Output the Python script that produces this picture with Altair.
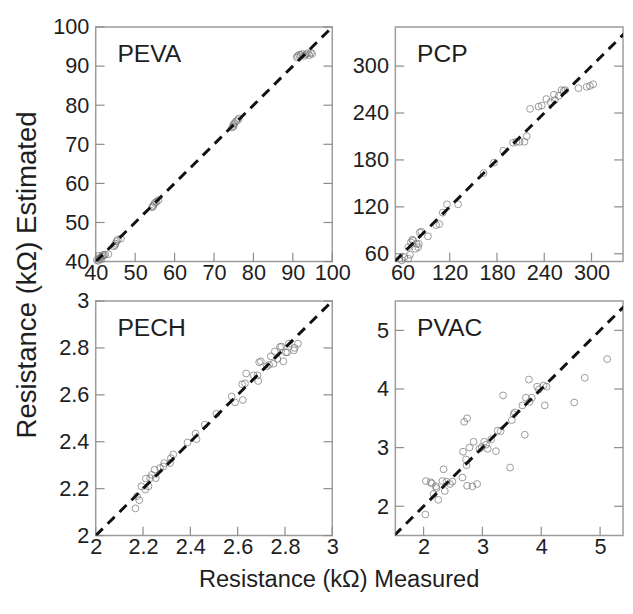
import altair as alt
import pandas as pd

FONT = "Liberation Sans"
TXT = "#1e1e1e"
FRAME = "#9c9c9c"

# ---------------- data ----------------
peva_measured = [40.3, 40.6, 40.8, 40.9, 41.2, 41.4, 41.5, 41.8, 42.1, 42.4, 43.2,
                 44.6, 44.9, 45.0, 45.3, 45.6, 46.4,
                 54.3, 54.5, 54.7, 55.0, 55.4, 55.9,
                 74.6, 74.9, 75.0, 75.2, 75.6, 76.0, 76.3,
                 91.0, 91.2, 91.6, 92.0, 92.4, 92.9, 93.3, 93.8, 94.2, 94.6, 94.9]
peva_estimated = [40.4, 40.2, 41.5, 40.8, 41.0, 40.6, 41.3, 41.7, 41.6, 41.8, 41.9,
                  43.9, 44.2, 44.6, 45.2, 45.6, 45.9,
                  53.9, 54.1, 54.5, 55.0, 55.3, 55.7,
                  74.3, 75.0, 74.6, 75.4, 75.9, 76.2, 76.6,
                  92.2, 92.6, 92.9, 92.8, 93.1, 92.6, 93.0, 93.3, 92.8, 93.4, 93.1]

pcp_measured = [59.2, 62.5, 67.5, 67.5, 69.5, 70.8, 72.5, 73.7, 76.6, 77.9,
                79.9, 80.8, 82.0, 84.1, 92.4, 102.8, 106.9, 111.1, 116.5, 130.6,
                163.0, 176.3, 187.9, 200.4, 204.5, 208.7, 214.9, 217.8, 222.0, 232.8,
                236.9, 242.7, 248.1, 252.3, 253.5, 258.5, 261.8, 264.7, 266.8, 283.4,
                293.8, 298.0, 302.1]
pcp_estimated = [51.6, 55.8, 53.7, 68.4, 58.7, 74.7, 78.1, 76.8, 66.3, 72.6,
                 68.4, 72.6, 87.4, 88.2, 82.3, 96.6, 97.9, 112.6, 123.2, 123.2,
                 163.2, 176.6, 191.8, 201.9, 203.2, 203.2, 203.2, 210.3, 245.3, 248.2,
                 249.5, 257.9, 253.7, 263.4, 256.6, 262.1, 269.3, 268.4, 269.3, 271.8,
                 273.5, 274.7, 276.8]

pech_measured = [2.168, 2.175, 2.184, 2.193, 2.209, 2.212, 2.223, 2.23, 2.237, 2.249,
                 2.254, 2.272, 2.286, 2.29, 2.314, 2.318, 2.328, 2.388, 2.422, 2.426,
                 2.461, 2.51, 2.575, 2.589, 2.622, 2.619, 2.631, 2.636, 2.668, 2.684,
                 2.687, 2.691, 2.698, 2.723, 2.733, 2.74, 2.751, 2.757, 2.768, 2.779,
                 2.785, 2.793, 2.803, 2.81, 2.817, 2.838, 2.841, 2.855]
pech_estimated = [2.116, 2.168, 2.151, 2.21, 2.196, 2.243, 2.21, 2.245, 2.259, 2.281,
                  2.245, 2.288, 2.295, 2.309, 2.309, 2.33, 2.346, 2.397, 2.435, 2.411,
                  2.473, 2.519, 2.593, 2.568, 2.578, 2.645, 2.649, 2.691, 2.683, 2.683,
                  2.659, 2.739, 2.743, 2.722, 2.728, 2.764, 2.733, 2.785, 2.753, 2.804,
                  2.806, 2.743, 2.781, 2.781, 2.818, 2.79, 2.8, 2.818]

pvac_measured = [2.03, 2.04, 2.12, 2.14, 2.17, 2.21, 2.22, 2.25, 2.34, 2.32,
                 2.36, 2.39, 2.45, 2.49, 2.66, 2.67, 2.69, 2.74, 2.72, 2.73,
                 2.74, 2.78, 2.83, 2.85, 2.91, 2.95, 2.99, 3.03, 3.06, 3.09,
                 3.15, 3.23, 3.26, 3.31, 3.35, 3.47, 3.50, 3.53, 3.55, 3.72,
                 3.68, 3.74, 3.79, 3.80, 3.84, 3.93, 3.96, 4.04, 4.06, 4.09,
                 4.56, 4.74, 5.12]
pvac_estimated = [1.86, 2.43, 2.41, 2.39, 2.21, 2.34, 2.31, 2.11, 2.63, 2.43,
                  2.26, 2.42, 2.38, 2.42, 2.49, 2.93, 3.44, 3.50, 2.80, 2.70,
                  2.35, 3.00, 2.34, 3.10, 2.38, 2.98, 3.01, 3.10, 3.05, 2.98,
                  3.14, 2.94, 3.29, 3.28, 3.89, 2.66, 3.47, 3.57, 3.60, 3.22,
                  3.72, 3.85, 4.16, 3.78, 3.85, 4.04, 3.99, 4.06, 3.72, 4.04,
                  3.77, 4.19, 4.51]

panel_names = ["PEVA", "PCP", "PECH", "PVAC"]
peva_ticks = [40, 50, 60, 70, 80, 90, 100]
pcp_ticks = [60, 120, 180, 240, 300]
pech_ticks = [2, 2.2, 2.4, 2.6, 2.8, 3]
pvac_ticks = [2, 3, 4, 5]

peva_domain_x, peva_domain_y = [40, 100], [40, 100]
pcp_domain_x, pcp_domain_y = [51, 340], [50, 350]
pech_domain_x, pech_domain_y = [2, 3], [2, 3]
pvac_domain_x, pvac_domain_y = [1.52, 5.39], [1.5, 5.5]

y_title = "Resistance (k\u03a9) Estimated"
x_title = "Resistance (k\u03a9) Measured"

TICK = 9
H = 238


def label_axis(ticks, orient):
    return alt.Axis(values=ticks, orient=orient, format="~r", ticks=False, domain=False,
                    grid=False, title=None, labelFont=FONT, labelFontSize=22,
                    labelColor=TXT, labelPadding=(1 if orient == "bottom" else 7),
                    labelFlush=False, labelOverlap=False, labelBound=False)


def panel(name, meas, est, dom_x, dom_y, ticks, w, h):
    df = pd.DataFrame({"m": meas, "e": est})
    tick_df = pd.DataFrame({"v": ticks})
    xs = alt.Scale(domain=dom_x, nice=False, zero=False)
    ys = alt.Scale(domain=dom_y, nice=False, zero=False)
    lo = min(dom_x[0], dom_y[0])
    hi = max(dom_x[1], dom_y[1])
    line_df = pd.DataFrame({"m": [lo, hi], "e": [lo, hi]})

    tick_style = dict(color="#8c8c8c", strokeWidth=1.2)
    bottom_ticks = alt.Chart(tick_df).mark_rule(**tick_style).encode(
        x=alt.X("v:Q", scale=xs, axis=None), y=alt.value(h - TICK), y2=alt.value(h))
    left_ticks = alt.Chart(tick_df).mark_rule(**tick_style).encode(
        y=alt.Y("v:Q", scale=ys, axis=None), x=alt.value(0), x2=alt.value(TICK))
    right_ticks = alt.Chart(tick_df).mark_rule(**tick_style).encode(
        y=alt.Y("v:Q", scale=ys, axis=None), x=alt.value(w - TICK), x2=alt.value(w))

    line = alt.Chart(line_df).mark_line(
        color="#111111", strokeWidth=3, strokeDash=[10, 7], clip=True
    ).encode(
        x=alt.X("m:Q", scale=xs, axis=None),
        y=alt.Y("e:Q", scale=ys, axis=None),
    )
    points = alt.Chart(df).mark_point(
        shape="circle", filled=False, size=48, color="#707070", strokeWidth=1
    ).encode(
        x=alt.X("m:Q", scale=xs, axis=label_axis(ticks, "bottom")),
        y=alt.Y("e:Q", scale=ys, axis=label_axis(ticks, "left")),
    )
    label = alt.Chart(pd.DataFrame({"name": [name]})).mark_text(
        align="left", baseline="alphabetic", font=FONT, fontSize=25, color=TXT
    ).encode(x=alt.value(22), y=alt.value(36), text="name:N")

    return alt.layer(points, bottom_ticks, left_ticks, right_ticks, line, label).resolve_axis(
        x="independent", y="independent"
    ).properties(width=w, height=h)


p1 = panel(panel_names[0], peva_measured, peva_estimated, peva_domain_x, peva_domain_y, peva_ticks, 240, H)
p2 = panel(panel_names[1], pcp_measured, pcp_estimated, pcp_domain_x, pcp_domain_y, pcp_ticks, 231, H)
p3 = panel(panel_names[2], pech_measured, pech_estimated, pech_domain_x, pech_domain_y, pech_ticks, 240, H)
p4 = panel(panel_names[3], pvac_measured, pvac_estimated, pvac_domain_x, pvac_domain_y, pvac_ticks, 231, H)

grid = alt.concat(
    p1, p2, p3, p4, columns=2, bounds="flush", align="each",
    spacing={"row": 40, "column": 64},
    title=alt.TitleParams(y_title, orient="left", anchor="middle", font=FONT,
                          fontSize=28, fontWeight="normal", color=TXT, offset=10, dx=12),
)

chart = alt.vconcat(
    grid,
    title=alt.TitleParams(x_title, orient="bottom", anchor="middle", font=FONT,
                          fontSize=24, fontWeight="normal", color=TXT, offset=10, dx=20),
).properties(
    padding={"left": 6, "top": 3, "right": 0, "bottom": 0}
).configure_view(stroke=FRAME, strokeWidth=1.5)

chart.save("out.html", embed_options={"renderer": "svg", "actions": False})
